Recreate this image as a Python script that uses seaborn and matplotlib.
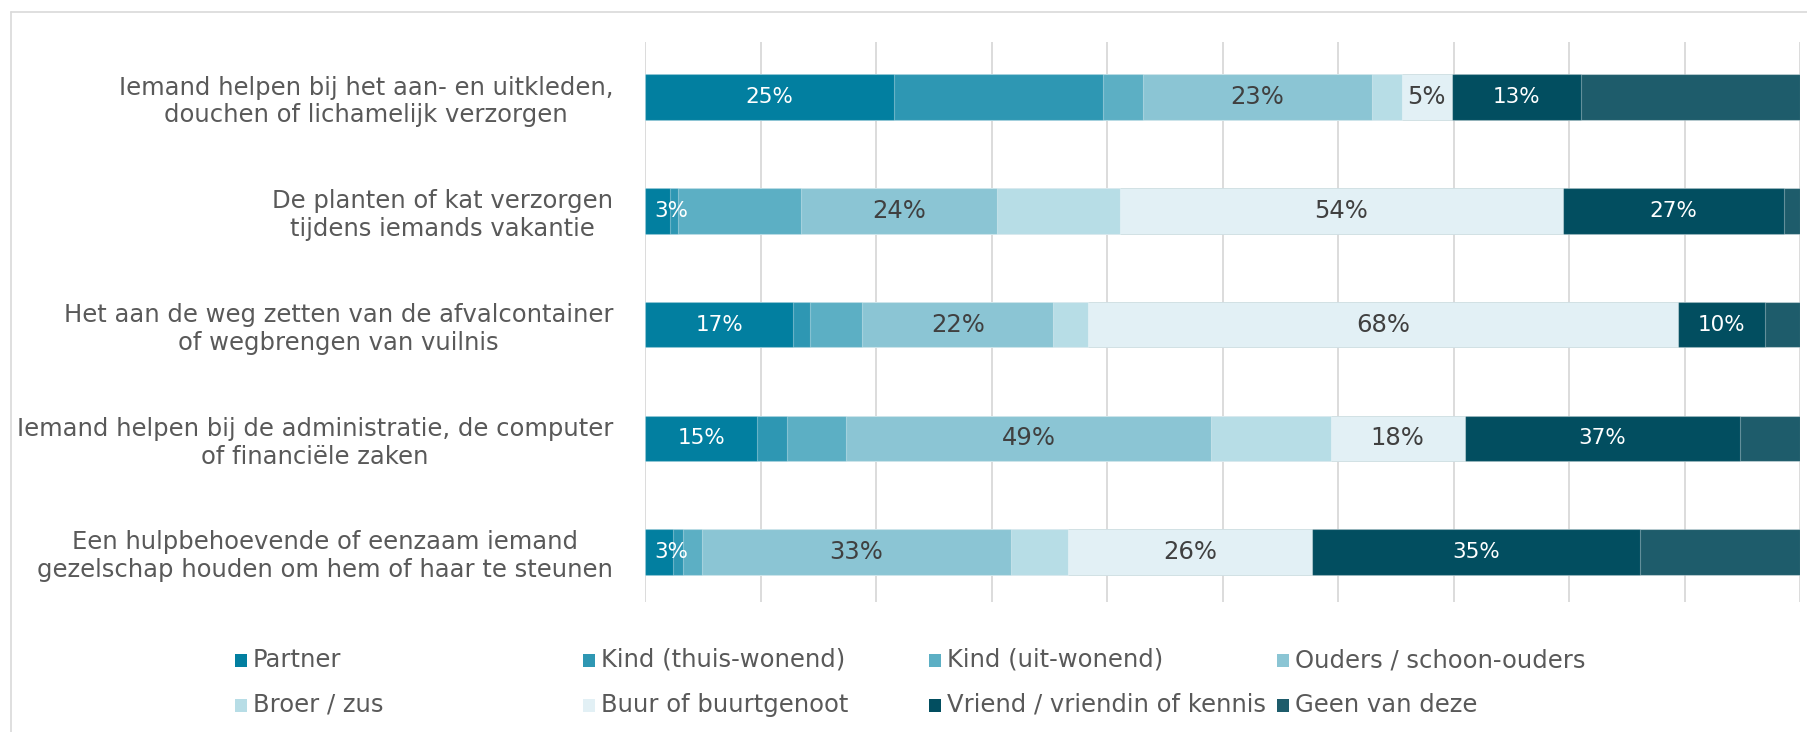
import numpy as np
import pandas as pd
import matplotlib
matplotlib.use("Agg")
import matplotlib.pyplot as plt
import seaborn as sns
from matplotlib.patches import Rectangle
from matplotlib.lines import Line2D

# ---------------- data ----------------
categories = [
    "Iemand helpen bij het aan- en uitkleden,\ndouchen of lichamelijk verzorgen",
    "De planten of kat verzorgen\ntijdens iemands vakantie",
    "Het aan de weg zetten van de afvalcontainer\nof wegbrengen van vuilnis",
    "Iemand helpen bij de administratie, de computer\nof financiële zaken",
    "Een hulpbehoevende of eenzaam iemand\ngezelschap houden om hem of haar te steunen",
]
series_names = [
    "Partner", "Kind (thuis-wonend)", "Kind (uit-wonend)", "Ouders / schoon-ouders",
    "Broer / zus", "Buur of buurtgenoot", "Vriend / vriendin of kennis", "Geen van deze",
]
partner      = [25, 3, 17, 15, 3]
kind_thuis   = [21, 1, 2, 4, 1]
kind_uit     = [4, 15, 6, 8, 2]
ouders       = [23, 24, 22, 49, 33]
broer        = [3, 15, 4, 16, 6]
buur         = [5, 54, 68, 18, 26]
vriend       = [13, 27, 10, 37, 35]
geen         = [22, 2, 4, 8, 17]

colors = ["#027FA0", "#2E97B3", "#5CAFC4", "#8BC5D4",
          "#B7DDE6", "#E2F0F5", "#024E60", "#1E5C6B"]
labelled = {0: "white", 3: "#404040", 5: "#404040", 6: "white"}
label_sizes = {0: 15.5, 3: 17.5, 5: 17.5, 6: 15.5}

# ---------------- figure ----------------
sns.set_theme(style="white")
plt.rcParams["font.family"] = ["DejaVu Sans"]

W, H = 1807, 732
fig = plt.figure(figsize=(W / 100, H / 100), dpi=100)
fig.patch.set_facecolor("white")
ax_left, ax_right, ax_top, ax_bottom = 645.3, 1800, 42, 602
ax = fig.add_axes([ax_left / W, 1 - ax_bottom / H, (ax_right - ax_left) / W, (ax_bottom - ax_top) / H])

values = np.array([partner, kind_thuis, kind_uit, ouders, broer, buur, vriend, geen], dtype=float)
totals = values.sum(axis=0)
pct = values / totals * 100
cum = pct.cumsum(axis=0)

for i in range(len(series_names) - 1, -1, -1):
    df = pd.DataFrame({"cat": categories, "val": cum[i]})
    sns.barplot(data=df, x="val", y="cat", orient="h", color=colors[i],
                saturation=1, width=0.4, errorbar=None, ax=ax,
                edgecolor=(1, 1, 1, 0.35), linewidth=0.8)

for i, tc in labelled.items():
    for j in range(len(categories)):
        start = cum[i][j] - pct[i][j]
        if pct[i][j] < 4:
            ax.text(start + 0.8, j, f"{int(values[i][j])}%", ha="left", va="center",
                    color=tc, fontsize=label_sizes[i])
        else:
            ax.text(start + pct[i][j] / 2, j, f"{int(values[i][j])}%", ha="center",
                    va="center", color=tc, fontsize=label_sizes[i])

ax.set_xlim(0, 100)
ax.set_ylim(4.44, -0.485)
ax.set_xticks(np.arange(0, 101, 10))
ax.xaxis.grid(True, color="#d9d9d9", linewidth=1.3)
ax.yaxis.grid(False)
ax.set_axisbelow(True)
ax.tick_params(axis="x", labelbottom=False, length=0)
ax.tick_params(axis="y", length=0, pad=23, labelsize=17.5, labelcolor="#595959")
for lbl in ax.get_yticklabels():
    lbl.set_multialignment("center")
    lbl.set_linespacing(1.2)
ax.set_xlabel("")
ax.set_ylabel("")
for s in ax.spines.values():
    s.set_visible(False)

# ---------------- legend (manual grid, 4 columns) ----------------
col_x = [235, 583, 929, 1277]
row_y = [660, 705]
for k, name in enumerate(series_names):
    r, c = divmod(k, 4)
    x, y = col_x[c], row_y[r]
    fig.add_artist(Rectangle((x / W, 1 - (y + 6.5) / H), 12 / W, 13 / H,
                             transform=fig.transFigure, facecolor=colors[k],
                             edgecolor="none"))
    fig.text((x + 18) / W, 1 - y / H, name, ha="left", va="center",
             fontsize=17.5, color="#595959")

# ---------------- chart border ----------------
fig.add_artist(Line2D([11 / W, 11 / W], [0, 1 - 12 / H], transform=fig.transFigure,
                      color="#d9d9d9", linewidth=1.2))
fig.add_artist(Line2D([11 / W, 1], [1 - 12 / H, 1 - 12 / H], transform=fig.transFigure,
                      color="#d9d9d9", linewidth=1.2))

fig.savefig("out.png", dpi=100, facecolor="white")
